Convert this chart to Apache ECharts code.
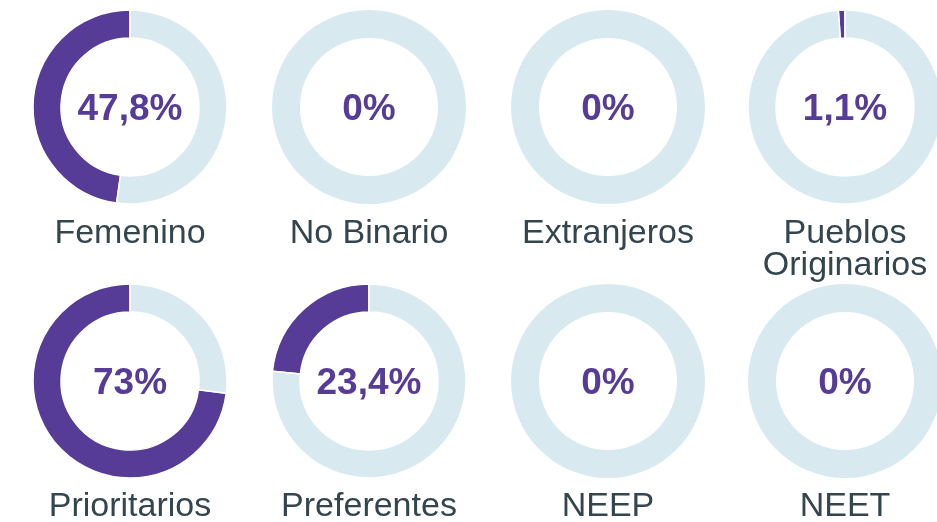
<!DOCTYPE html>
<html>
<head>
<meta charset="utf-8">
<script src="https://cdn.jsdelivr.net/npm/echarts@6/dist/echarts.min.js"></script>
<style>
    html, body { margin: 0; padding: 0; background: #fff; }
    #chart { width: 937px; height: 522px; }
</style>
</head>
<body>
<div id="chart"></div>
<script>
const categories = [
    "Femenino", "No Binario", "Extranjeros", "Pueblos\nOriginarios",
    "Prioritarios", "Preferentes", "NEEP", "NEET",
];
const percentValues = [47.8, 0, 0, 1.1, 73, 23.4, 0, 0];

const colorPurple = "#563c97";
const colorLight = "#d8eaf0";
const colorText = "#34454d";

const colCenters = [130, 369, 608, 845];
const rowCenters = [107, 381];
const labelTops = [218, 491];

const formatPercent = (v) => `${String(v).replace(".", ",")}%`;

const series = [];
const titles = [];

categories.forEach((name, i) => {
    const col = i % 4;
    const row = Math.floor(i / 4);
    const value = percentValues[i];
    series.push({
        type: "pie",
        center: [colCenters[col], rowCenters[row]],
        radius: [69, 97],
        startAngle: 90,
        clockwise: false,
        silent: true,
        labelLine: { show: false },
        itemStyle: {
            borderColor: "#fff",
            borderWidth: value > 0 ? 1.5 : 0,
        },
        data: [
            {
                value: value,
                itemStyle: { color: colorPurple },
                // porcentaje al centro
                label: {
                    show: true,
                    position: "center",
                    offset: [0, 3],
                    formatter: () => formatPercent(value),
                    color: colorPurple,
                    fontSize: 37,
                    fontWeight: "bold",
                    fontFamily: "Liberation Sans",
                },
            },
            {
                value: 100 - value,
                itemStyle: { color: colorLight },
                label: { show: false },
            },
        ],
    });
    // nombre de la categoría
    titles.push({
        text: name,
        left: colCenters[col],
        top: labelTops[row],
        textAlign: "center",
        padding: 0,
        textStyle: {
            color: colorText,
            fontSize: 34,
            fontWeight: "normal",
            fontFamily: "Liberation Sans",
            lineHeight: 32,
        },
    });
});

const chart = echarts.init(document.getElementById("chart"));
chart.setOption({
    animation: false,
    title: titles,
    series: series,
});
</script>
</body>
</html>
